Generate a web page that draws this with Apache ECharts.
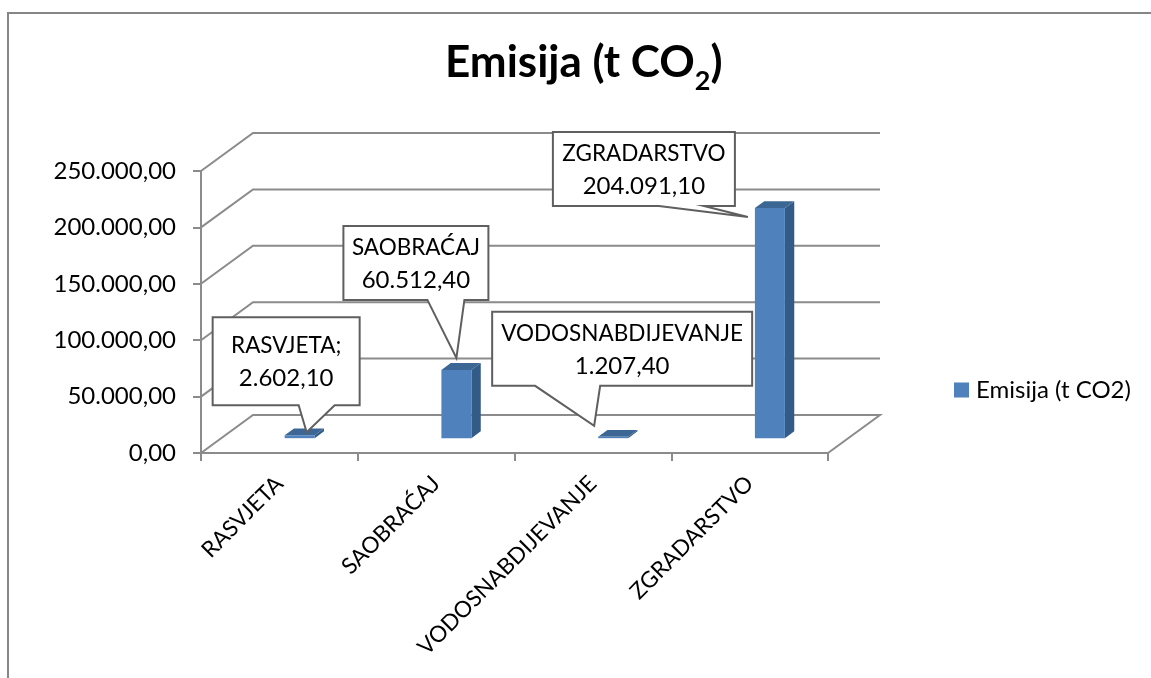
<!DOCTYPE html>
<html>
<head>
<meta charset="utf-8">
<style>
html, body { margin: 0; padding: 0; background: #fff; }
#chart { width: 1151px; height: 678px; }
</style>
<script src="https://cdn.jsdelivr.net/npm/echarts@6/dist/echarts.min.js"></script>
</head>
<body>
<div id="chart"></div>
<script>
const categories = ['RASVJETA', 'SAOBRAĆAJ', 'VODOSNABDIJEVANJE', 'ZGRADARSTVO']
const emisija = [2602.1, 60512.4, 1207.4, 204091.1]
const yTicks = [0, 50000, 100000, 150000, 200000, 250000]
const yTickLabels = ['0,00', '50.000,00', '100.000,00', '150.000,00', '200.000,00', '250.000,00']
const calloutNames = ['RASVJETA;', 'SAOBRAĆAJ', 'VODOSNABDIJEVANJE', 'ZGRADARSTVO']
const calloutValues = ['2.602,10', '60.512,40', '1.207,40', '204.091,10']

const FONT = 'Lato, "Open Sans", sans-serif'
const GRID_COLOR = '#8b8b8b'
// 3D look: how far the back wall sits from the front plane, in px
const DEPTH_X = 52
const DEPTH_Y = -38
const BAR_FRONT = 0.39
const BAR_DEPTH = 0.18
const BAR_WIDTH = 30

// callout box/tail, px relative to the top middle of the bar's front face
const calloutLayout = [
    { left: -87, top: -118, w: 147, h: 88, tail: [-1, 35], tip: [7, -3] },
    { left: -113, top: -144, w: 145, h: 74, tail: [-29, 8], tip: [0, -12] },
    { left: -121, top: -125, w: 260, h: 74, tail: [-78, -13], tip: [-19, -11] },
    { left: -217, top: -76, w: 182, h: 74, tail: [-111, -66], tip: [-22, 9] }
]

const chart = echarts.init(document.getElementById('chart'))

const renderWall = (params, api) => {
    const band = api.size([1, 0])[0]
    const front = api.coord([0, api.value(0)])
    const x0 = front[0] - band / 2
    const x1 = x0 + band * categories.length
    const y = front[1]
    const style = { stroke: GRID_COLOR, lineWidth: 2, fill: null }
    const points = [[x0, y], [x0 + DEPTH_X, y + DEPTH_Y], [x1 + DEPTH_X, y + DEPTH_Y]]
    // the floor also gets its right edge
    if (api.value(0) === 0) points.push([x1, y])
    return { type: 'polyline', shape: { points }, style, silent: true }
}

const barFront = (api) => {
    const top = api.coord([api.value(0), api.value(1)])
    const base = api.coord([api.value(0), 0])
    const cx = top[0] + DEPTH_X * BAR_FRONT
    const dy = DEPTH_Y * BAR_FRONT
    return { cx, top: top[1] + dy, bottom: base[1] + dy }
}

const renderBar = (params, api) => {
    const f = barFront(api)
    const l = f.cx - BAR_WIDTH / 2
    const r = f.cx + BAR_WIDTH / 2
    const dx = DEPTH_X * BAR_DEPTH
    const dy = DEPTH_Y * BAR_DEPTH
    return {
        type: 'group',
        children: [
            { type: 'polygon', shape: { points: [[r, f.top], [r + dx, f.top + dy], [r + dx, f.bottom + dy], [r, f.bottom]] }, style: { fill: '#325b87' } },
            { type: 'polygon', shape: { points: [[l, f.top], [l + dx, f.top + dy], [r + dx, f.top + dy], [r, f.top]] }, style: { fill: '#3c6795' } },
            { type: 'rect', shape: { x: l, y: f.top, width: BAR_WIDTH, height: f.bottom - f.top }, style: { fill: '#4f81bd' } }
        ]
    }
}

const renderCallout = (params, api) => {
    const i = params.dataIndex
    const f = barFront(api)
    const c = calloutLayout[i]
    const x0 = f.cx + c.left
    const y0 = f.top + c.top
    const x1 = x0 + c.w
    const y1 = y0 + c.h
    const points = [
        [x0, y0], [x1, y0], [x1, y1],
        [f.cx + c.tail[1], y1],
        [f.cx + c.tip[0], f.top + c.tip[1]],
        [f.cx + c.tail[0], y1],
        [x0, y1]
    ]
    return {
        type: 'group',
        children: [
            { type: 'polygon', shape: { points }, style: { fill: '#fff', stroke: '#5f5f5f', lineWidth: 2 } },
            {
                type: 'text',
                style: {
                    x: (x0 + x1) / 2,
                    y: (y0 + y1) / 2 + 1,
                    text: '{n|' + calloutNames[i] + '}\n{v|' + calloutValues[i] + '}',
                    rich: {
                        n: { font: '22.5px ' + FONT, lineHeight: 32, fill: '#000' },
                        v: { font: '24px ' + FONT, lineHeight: 32, fill: '#000' }
                    },
                    align: 'center',
                    verticalAlign: 'middle'
                }
            }
        ]
    }
}

chart.setOption({
    animation: false,
    backgroundColor: '#fff',
    title: {
        text: 'Emisija (t CO{sub|2})',
        left: 445,
        top: 31,
        padding: 0,
        textStyle: {
            fontFamily: FONT,
            fontSize: 44,
            fontWeight: 'bold',
            color: '#000',
            rich: {
                sub: { fontFamily: FONT, fontSize: 27, fontWeight: 'bold', color: '#000', padding: [37, 0, 0, 0] }
            }
        }
    },
    legend: {
        data: ['Emisija (t CO2)'],
        left: 954,
        top: 378,
        padding: 0,
        itemWidth: 15,
        itemHeight: 15,
        icon: 'rect',
        textStyle: { fontFamily: FONT, fontSize: 24, color: '#000', padding: [0, 0, 0, 2] }
    },
    graphic: [
        { type: 'polyline', shape: { points: [[8, 678], [8, 13], [1151, 13]] }, style: { stroke: '#868686', lineWidth: 2, fill: null }, silent: true }
    ],
    grid: { left: 201, right: 323, top: 171, bottom: 225 },
    xAxis: {
        type: 'category',
        data: categories,
        axisLine: { lineStyle: { color: GRID_COLOR, width: 2 } },
        axisTick: { show: true, alignWithLabel: false, length: 8, lineStyle: { color: GRID_COLOR, width: 2 } },
        axisLabel: {
            interval: 0,
            rotate: 45,
            margin: 27,
            fontFamily: FONT,
            fontSize: 22.5,
            color: '#000'
        }
    },
    yAxis: {
        type: 'value',
        min: 0,
        max: 250000,
        interval: 50000,
        axisLine: { show: true, lineStyle: { color: GRID_COLOR, width: 2 } },
        axisTick: { show: true, length: 8, lineStyle: { color: GRID_COLOR, width: 2 } },
        splitLine: { show: false },
        axisLabel: {
            margin: 25,
            fontFamily: FONT,
            fontSize: 24,
            color: '#000',
            formatter: (v) => yTickLabels[yTicks.indexOf(v)]
        }
    },
    series: [
        {
            name: 'wall',
            type: 'custom',
            z: 1,
            silent: true,
            data: yTicks.map((v) => [v]),
            encode: { y: 0 },
            renderItem: renderWall
        },
        {
            name: 'Emisija (t CO2)',
            type: 'custom',
            z: 2,
            itemStyle: { color: '#4f81bd' },
            data: emisija.map((v, i) => [i, v]),
            encode: { x: 0, y: 1 },
            renderItem: renderBar
        },
        {
            name: 'callouts',
            type: 'custom',
            z: 3,
            silent: true,
            data: emisija.map((v, i) => [i, v]),
            encode: { x: 0, y: 1 },
            renderItem: renderCallout
        }
    ]
})
</script>
</body>
</html>
